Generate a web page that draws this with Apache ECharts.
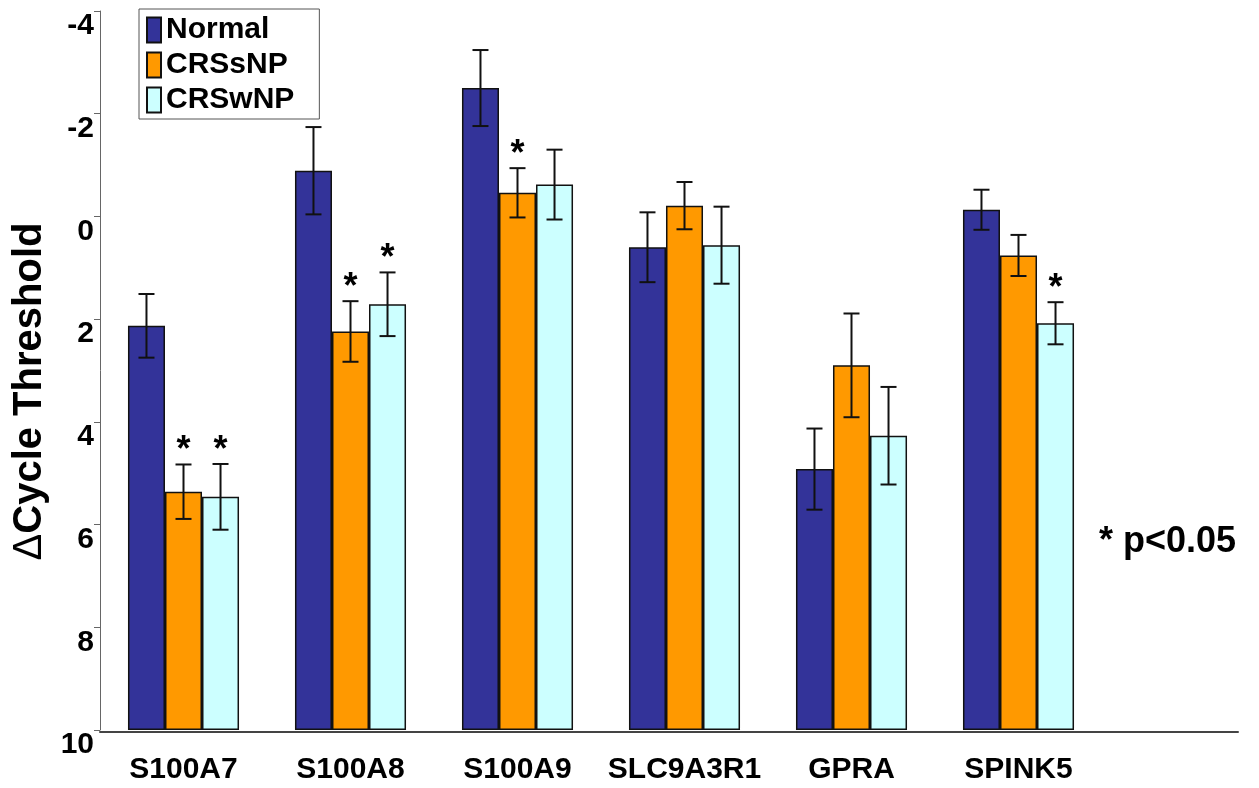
<!DOCTYPE html>
<html>
<head>
<meta charset="utf-8">
<script src="https://cdn.jsdelivr.net/npm/echarts@6/dist/echarts.min.js"></script>
<style>
  html, body { margin: 0; padding: 0; background: #fff; }
  #chart { width: 1259px; height: 788px; }
</style>
</head>
<body>
<div id="chart"></div>
<script>
const categories = ['S100A7', 'S100A8', 'S100A9', 'SLC9A3R1', 'GPRA', 'SPINK5']
const groupNames = ['Normal', 'CRSsNP', 'CRSwNP']
const normalValues = [2.13, -0.89, -2.50, 0.60, 4.92, -0.13]
const crssnpValues = [5.36, 2.24, -0.46, -0.21, 2.90, 0.76]
const crswnpValues = [5.46, 1.71, -0.62, 0.56, 4.27, 2.08]
const normalErr = [0.62, 0.85, 0.74, 0.68, 0.79, 0.39]
const crssnpErr = [0.53, 0.59, 0.48, 0.46, 1.01, 0.40]
const crswnpErr = [0.64, 0.62, 0.68, 0.75, 0.95, 0.41]
// 1 = significant (p<0.05), drawn as a star
const normalSig = [0, 0, 0, 0, 0, 0]
const crssnpSig = [1, 1, 1, 0, 0, 0]
const crswnpSig = [1, 1, 0, 0, 0, 1]
const yTicks = [-4, -2, 0, 2, 4, 6, 8, 10]

const colors = ['#333399', '#ff9900', '#ccffff']
const values = [normalValues, crssnpValues, crswnpValues]
const errs = [normalErr, crssnpErr, crswnpErr]
const sigs = [normalSig, crssnpSig, crswnpSig]
const groupFrac = 0.665

const chart = echarts.init(document.getElementById('chart'))

const barSeries = groupNames.map((name, k) => ({
    name: name,
    type: 'bar',
    data: values[k],
    barGap: '0%',
    barCategoryGap: '33.5%',
    itemStyle: {
        color: colors[k],
        borderColor: '#111',
        borderWidth: 1.5
    },
    silent: true
}))

const errSeries = groupNames.map((name, k) => ({
    name: name + ' err',
    type: 'custom',
    z: 5,
    silent: true,
    data: values[k].map((v, i) => [i, v, errs[k][i], sigs[k][i]]),
    encode: { x: 0, y: 1 },
    renderItem: function (params, api) {
        const i = api.value(0)
        const v = api.value(1)
        const e = api.value(2)
        const s = api.value(3)
        const band = api.size([1, 0])[0]
        const barW = band * groupFrac / 3
        const cx = api.coord([i, v])[0] + (k - 1) * barW
        const yHi = api.coord([i, v - e])[1]
        const yLo = api.coord([i, v + e])[1]
        const cap = 8
        const st = { stroke: '#111', lineWidth: 2 }
        const children = [
            { type: 'line', shape: { x1: cx, y1: yHi, x2: cx, y2: yLo }, style: st },
            { type: 'line', shape: { x1: cx - cap, y1: yHi, x2: cx + cap, y2: yHi }, style: st },
            { type: 'line', shape: { x1: cx - cap, y1: yLo, x2: cx + cap, y2: yLo }, style: st }
        ]
        if (s) {
            children.push({
                type: 'text',
                style: {
                    x: cx, y: yHi - 13, text: '*',
                    fill: '#000', font: 'bold 36px "Liberation Sans", Arial, sans-serif',
                    align: 'center', verticalAlign: 'middle'
                }
            })
        }
        return { type: 'group', children: children }
    }
}))

chart.setOption({
    animation: false,
    backgroundColor: '#fff',
    textStyle: { fontFamily: '"Liberation Sans", Arial, sans-serif' },
    legend: {
        data: groupNames,
        orient: 'vertical',
        left: 139,
        top: 9,
        padding: [6, 25, 4, 7],
        itemWidth: 14,
        itemHeight: 25,
        itemGap: 5,
        icon: 'rect',
        borderColor: '#555',
        borderWidth: 1,
        textStyle: { fontSize: 30, fontWeight: 'bold', color: '#000', lineHeight: 25 }
    },
    grid: [
        { left: 100, top: 11, width: 1002, bottom: 58, outerBoundsMode: 'none', containLabel: false },
        { left: 100, top: 11, right: 21, bottom: 56, outerBoundsMode: 'none', containLabel: false }
    ],
    xAxis: [
        {
            type: 'category',
            gridIndex: 0,
            data: categories,
            axisLine: { show: false },
            axisTick: { show: false },
            axisLabel: { interval: 0, fontSize: 30, fontWeight: 'bold', color: '#000', margin: 25 }
        },
        {
            type: 'value',
            gridIndex: 1,
            axisLine: { show: true, lineStyle: { color: '#444', width: 2 } },
            axisTick: { show: false },
            axisLabel: { show: false },
            splitLine: { show: false }
        }
    ],
    yAxis: [
        {
            type: 'value',
            gridIndex: 0,
            inverse: true,
            min: yTicks[0],
            max: yTicks[yTicks.length - 1],
            interval: 2,
            startValue: yTicks[yTicks.length - 1],
            name: '{d|Δ}Cycle Threshold',
            nameLocation: 'middle',
            nameGap: 48,
            nameTextStyle: {
                fontSize: 40, fontWeight: 'bold', color: '#000',
                padding: [0, 42, 0, 0],
                rich: { d: { fontSize: 40, fontWeight: 'normal', color: '#000' } }
            },
            axisLine: { show: true, lineStyle: { color: '#666', width: 1 } },
            axisTick: { show: true, length: 6, lineStyle: { color: '#666' } },
            axisLabel: {
                fontSize: 30, fontWeight: 'bold', color: '#000', margin: 6,
                verticalAlign: 'top'
            },
            splitLine: { show: false }
        },
        {
            type: 'value',
            gridIndex: 1,
            show: false
        }
    ],
    graphic: [
        {
            type: 'text',
            left: 1099,
            top: 524,
            style: {
                text: '* p<0.05',
                font: 'bold 36px "Liberation Sans", Arial, sans-serif',
                fill: '#000'
            }
        }
    ],
    series: barSeries.concat(errSeries)
})
</script>
</body>
</html>
